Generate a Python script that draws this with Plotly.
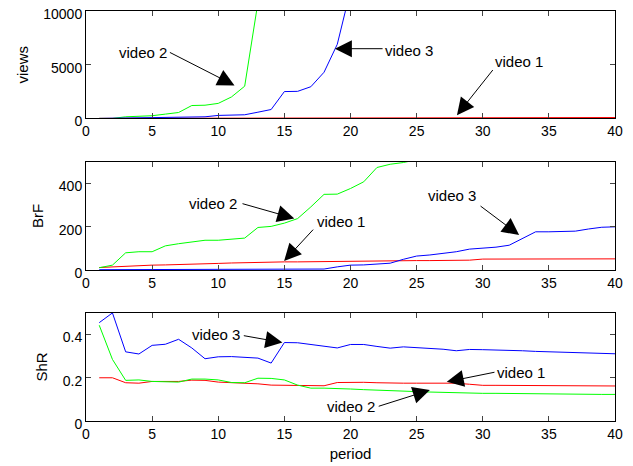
import plotly.graph_objects as go

period = list(range(1, 41))

# views
views_v1 = [5, 8, 10, 12, 14, 15, 17, 18, 20, 22, 24, 26, 28, 30, 32, 34, 36, 38, 40, 42,
            44, 46, 48, 50, 52, 54, 56, 58, 60, 62, 64, 66, 68, 70, 72, 74, 76, 78, 80, 82]
views_v2 = [0, 0, 150, 200, 250, 400, 550, 1200, 1230, 1400, 2000, 3000, 10800, 16000, 22000,
            28000, 34000, 40000, 46000, 52000, 58000, 64000, 70000, 76000, 82000, 88000, 94000,
            100000, 106000, 112000, 118000, 124000, 130000, 136000, 142000, 148000, 154000,
            160000, 166000, 172000]
views_v3 = [0, 10, 20, 30, 40, 60, 80, 100, 150, 280, 310, 340, 580, 830, 2500, 2520, 2950,
            4300, 6900, 13600, 18000, 22000, 26000, 30000, 34000, 38000, 42000, 46000, 50000,
            54000, 58000, 62000, 66000, 70000, 74000, 78000, 82000, 86000, 90000, 94000]

# BrF
brf_v1 = [12, 15, 20, 21, 23, 24, 25, 27, 28, 31, 33, 35, 36, 37, 38, 38, 39, 40, 41, 42,
          42, 43, 43, 44, 44, 44, 45, 45, 46, 51, 51, 51, 51, 52, 52, 52, 52, 52, 52, 52]
brf_v2 = [11, 23, 80, 85, 85, 112, 122, 131, 138, 138, 143, 148, 197, 202, 217, 238, 292,
          350, 351, 377, 408, 474, 489, 497, 510, 525, 540, 555, 570, 585, 600, 615, 630,
          645, 660, 675, 690, 705, 720, 735]
brf_v3 = [2, 2, 2, 2, 2, 2, 2, 2, 2, 2, 2, 2, 2, 2, 2, 3, 4, 5, 15, 23,
          24, 28, 32, 50, 65, 70, 76, 85, 97, 102, 106, 115, 145, 177, 177, 177, 180, 190, 198, 200]

# ShR
shr_v1 = [0.200, 0.200, 0.177, 0.175, 0.183, 0.183, 0.183, 0.189, 0.188, 0.180,
          0.178, 0.177, 0.172, 0.166, 0.166, 0.166, 0.163, 0.163, 0.178, 0.180,
          0.179, 0.177, 0.175, 0.175, 0.175, 0.175, 0.175, 0.175, 0.170, 0.165,
          0.165, 0.165, 0.164, 0.163, 0.162, 0.162, 0.162, 0.162, 0.162, 0.162]
shr_v2 = [0.443, 0.285, 0.188, 0.190, 0.183, 0.183, 0.180, 0.194, 0.194, 0.190,
          0.178, 0.177, 0.198, 0.197, 0.190, 0.166, 0.152, 0.152, 0.151, 0.148,
          0.145, 0.142, 0.140, 0.138, 0.136, 0.134, 0.132, 0.131, 0.129, 0.128,
          0.128, 0.127, 0.127, 0.126, 0.126, 0.125, 0.124, 0.124, 0.123, 0.123]
shr_v3 = [0.455, 0.500, 0.320, 0.310, 0.350, 0.355, 0.378, 0.338, 0.288, 0.297,
          0.298, 0.294, 0.291, 0.268, 0.363, 0.362, 0.355, 0.348, 0.338, 0.354,
          0.354, 0.345, 0.337, 0.343, 0.340, 0.338, 0.332, 0.325, 0.331, 0.330,
          0.329, 0.327, 0.325, 0.322, 0.320, 0.319, 0.318, 0.316, 0.313, 0.311]

RED, GREEN, BLUE = "#ff0000", "#00ff00", "#0000ff"
FONT = "Liberation Sans, Arial, Helvetica, sans-serif"

fig = go.Figure()
panels = [
    ("y", [views_v1, views_v2, views_v3]),
    ("y2", [brf_v1, brf_v2, brf_v3]),
    ("y3", [shr_v1, shr_v2, shr_v3]),
]
axmap = {"y": "x", "y2": "x2", "y3": "x3"}
for yax, series in panels:
    for vals, col in zip(series, [RED, GREEN, BLUE]):
        fig.add_trace(go.Scatter(x=period, y=vals, mode="lines",
                                 line=dict(color=col, width=1),
                                 xaxis=axmap[yax], yaxis=yax, showlegend=False,
                                 hoverinfo="skip"))

common_x = dict(range=[0, 40], tickvals=[0, 5, 10, 15, 20, 25, 30, 35, 40],
                ticks="inside", ticklen=5, mirror="ticks", showline=True,
                linecolor="black", linewidth=1, showgrid=False, zeroline=False,
                automargin=False, ticklabeloverflow="allow",
                tickfont=dict(size=14, color="black", family=FONT))
common_y = dict(ticks="inside", ticklen=5, mirror="ticks", showline=True,
                linecolor="black", linewidth=1, showgrid=False, zeroline=False,
                automargin=False, ticklabeloverflow="allow", ticklabelshift=3,
                tickfont=dict(size=14, color="black", family=FONT))

# page body has an 8px margin; the figure is sized to fit inside the window
fig.update_layout(
    width=625, height=458,
    margin=dict(l=78, r=18, t=3, b=45, autoexpand=False),
    plot_bgcolor="white", paper_bgcolor="white",
    font=dict(family=FONT, size=15, color="black"),
    xaxis=dict(common_x, anchor="y"),
    xaxis2=dict(common_x, anchor="y2"),
    xaxis3=dict(common_x, anchor="y3",
                title=dict(text="period", font=dict(size=15), standoff=7)),
    yaxis=dict(common_y, domain=[0.738, 1.0], range=[0, 10000],
               tickvals=[0, 5000, 10000], ticktext=["0", "5000", "10000"], anchor="x",
               title=dict(text="views", font=dict(size=15), standoff=11)),
    yaxis2=dict(common_y, domain=[0.368, 0.632], range=[0, 500],
                tickvals=[0, 200, 400], ticktext=["0", "200", "400"], anchor="x2",
                title=dict(text="BrF", font=dict(size=15), standoff=11)),
    yaxis3=dict(common_y, domain=[0.0, 0.2636], range=[0, 0.5],
                tickvals=[0, 0.2, 0.4], ticktext=["0", "0.2", "0.4"], anchor="x3",
                title=dict(text="ShR", font=dict(size=15), standoff=11)),
)

# annotations: (axis suffix, text pos, arrow tail, arrow head)
notes = [
    ("", "video 2", (4.31, 6122), (6.23, 6214), (11.23, 3075)),
    ("", "video 3", (24.46, 6306), (22.54, 6491), (18.82, 6491)),
    ("", "video 1", (32.77, 5291), (30.85, 4644), (28.05, 305)),
    ("2", "video 2", (9.62, 310), (11.72, 309), (15.75, 239)),
    ("2", "video 1", (19.31, 224), (17.28, 194), (14.98, 42)),
    ("2", "video 3", (27.69, 344), (29.72, 301), (32.75, 162)),
    ("3", "video 3", (9.85, 0.401), (11.82, 0.396), (14.85, 0.363)),
    ("3", "video 1", (32.92, 0.223), (31.0, 0.227), (27.28, 0.181)),
    ("3", "video 2", (20.0, 0.069), (22.02, 0.066), (26.0, 0.143)),
]
for sfx, txt, tpos, tail, head in notes:
    xr, yr = "x" + sfx, "y" + sfx
    fig.add_annotation(x=head[0], y=head[1], xref=xr, yref=yr,
                       ax=tail[0], ay=tail[1], axref=xr, ayref=yr,
                       text="", showarrow=True, arrowhead=2, arrowsize=3.4,
                       arrowwidth=1, arrowcolor="black")
    fig.add_annotation(x=tpos[0], y=tpos[1], xref=xr, yref=yr, text=txt,
                       showarrow=False, xanchor="center", yanchor="middle",
                       font=dict(size=15, color="black", family=FONT))

fig.write_html("out.html")
